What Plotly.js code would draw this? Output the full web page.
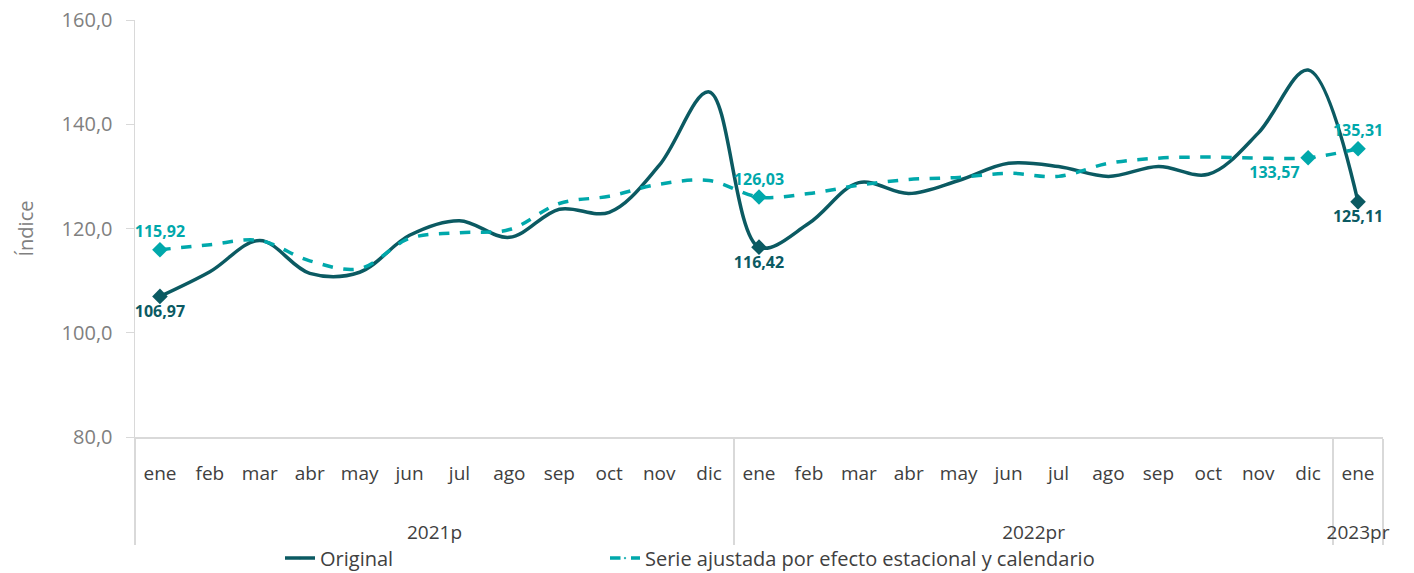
<!DOCTYPE html>
<html><head><meta charset="utf-8">
<script src="https://cdn.plot.ly/plotly-3.0.1.min.js"></script>
<style>html,body{margin:0;padding:0;background:#fff}#chart{width:1414px;height:573px}</style>
</head><body><div id="chart"></div>
<script>
const years = ["2021p","2021p","2021p","2021p","2021p","2021p","2021p","2021p","2021p","2021p","2021p","2021p",
  "2022pr","2022pr","2022pr","2022pr","2022pr","2022pr","2022pr","2022pr","2022pr","2022pr","2022pr","2022pr","2023pr"];
const months = ["ene","feb","mar","abr","may","jun","jul","ago","sep","oct","nov","dic",
  "ene","feb","mar","abr","may","jun","jul","ago","sep","oct","nov","dic","ene"];
const original = [106.97,111.7,117.7,111.4,111.6,118.7,121.5,118.3,123.7,123.1,132.1,146.2,
  116.42,121.0,128.8,126.7,129.2,132.5,131.9,130.0,131.9,130.4,138.3,150.4,125.11];
const ajustada = [115.92,116.9,117.7,113.8,112.3,118.1,119.2,119.8,124.8,126.2,128.5,129.2,
  126.03,126.7,128.3,129.4,129.8,130.6,130.0,132.5,133.5,133.7,133.5,133.57,135.31];
const origLabels = {0:"106,97",12:"116,42",24:"125,11"};
const ajLabels = {0:"115,92",12:"126,03",23:"133,57",24:"135,31"};
const origLabelPos = {0:"bottom center",12:"bottom center",24:"bottom center"};
const ajLabelPos = {0:"top center",12:"top center",23:"bottom left",24:"top center"};

const cOrig = "#0b5a62", cAj = "#00a8ab";
const n = months.length;
function arr(map, def){ return Array.from({length:n},(_,i)=> map[i]!==undefined ? map[i] : def); }
function sizes(map){ return Array.from({length:n},(_,i)=> map[i]!==undefined ? 12 : 0); }
// year group labels are pushed lower, as in the reference
const yearLabels = years.map(y => "<br><br>" + y);

const traces = [
  {x:[yearLabels,months], y:original, name:"Original", type:"scatter", mode:"lines+markers+text", legend:"legend",
   line:{color:cOrig,width:3.5,shape:"spline",smoothing:1},
   marker:{symbol:"diamond",size:sizes(origLabels),color:cOrig,opacity:1,line:{width:0}},
   text:arr(origLabels,""), textposition:arr(origLabelPos,"bottom center"),
   textfont:{family:"Open Sans",size:16,color:cOrig,weight:700}, cliponaxis:false, hoverinfo:"skip"},
  {x:[yearLabels,months], y:ajustada, name:"Serie ajustada por efecto estacional y calendario", type:"scatter", mode:"lines+markers+text", legend:"legend2",
   line:{color:cAj,width:3.5,dash:"dash",shape:"spline",smoothing:1},
   marker:{symbol:"diamond",size:sizes(ajLabels),color:cAj,opacity:1,line:{width:0}},
   text:arr(ajLabels,""), textposition:arr(ajLabelPos,"top center"),
   textfont:{family:"Open Sans",size:16,color:cAj,weight:700}, cliponaxis:false, hoverinfo:"skip"}
];

const legBase = {orientation:"h",xref:"container",yref:"container",xanchor:"left",yanchor:"middle",y:0.026,
  font:{size:20,color:"#404040"},bgcolor:"rgba(0,0,0,0)"};

const layout = {
  width:1414, height:573,
  margin:{l:135,r:31,t:20,b:136},
  paper_bgcolor:"#fff", plot_bgcolor:"#fff",
  separators:",.",
  font:{family:"Open Sans",color:"#595959"},
  showlegend:true,
  legend:Object.assign({},legBase,{x:280/1414}),
  legend2:Object.assign({},legBase,{x:605/1414}),
  xaxis:{type:"multicategory",range:[-0.5,24.5],autorange:false,automargin:false,showline:true,linecolor:"#d9d9d9",linewidth:1.5,showgrid:false,
    ticks:"",ticklabelstandoff:19,
    tickangle:0,tickfont:{size:19,color:"#404040"},showdividers:true,dividercolor:"#d9d9d9",dividerwidth:1.5,zeroline:false},
  yaxis:{range:[80,160],autorange:false,dtick:20,tickformat:".1f",showline:true,linecolor:"#d9d9d9",linewidth:1.5,
    ticks:"outside",ticklen:8,tickcolor:"#d9d9d9",showgrid:false,zeroline:false,automargin:false,ticklabelstandoff:9,
    tickfont:{size:20,color:"#808080"},
    title:{text:"Índice",font:{size:20,color:"#808080"},standoff:22}}
};
Plotly.newPlot("chart",traces,layout,{staticPlot:true});
</script></body></html>
